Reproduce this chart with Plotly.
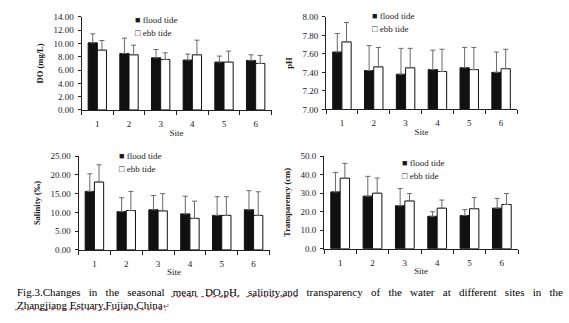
import plotly.graph_objects as go

W, H = 569, 323

sites = ["1", "2", "3", "4", "5", "6"]
series = ["flood tide", "ebb tide"]

# Dissolved oxygen (mg/L): means and upper error (SD)
do_flood = [10.1, 8.5, 7.85, 7.5, 7.2, 7.45]
do_ebb = [9.0, 8.3, 7.6, 8.3, 7.2, 7.0]
do_flood_sd = [1.35, 2.3, 1.25, 0.9, 0.9, 0.85]
do_ebb_sd = [1.45, 1.45, 1.0, 2.2, 1.65, 1.2]

# pH
ph_flood = [7.62, 7.42, 7.38, 7.43, 7.45, 7.40]
ph_ebb = [7.73, 7.46, 7.45, 7.41, 7.43, 7.44]
ph_flood_sd = [0.20, 0.27, 0.28, 0.21, 0.22, 0.22]
ph_ebb_sd = [0.21, 0.21, 0.21, 0.24, 0.24, 0.21]

# Salinity (‰)
sal_flood = [15.6, 10.2, 10.7, 9.6, 9.2, 10.7]
sal_ebb = [18.1, 10.5, 10.4, 8.4, 9.2, 9.2]
sal_flood_sd = [4.7, 3.7, 3.8, 4.7, 5.0, 5.1]
sal_ebb_sd = [4.6, 5.1, 4.6, 4.6, 5.0, 6.3]

# Transparency (cm)
tr_flood = [30.7, 28.4, 23.2, 17.5, 17.9, 21.9]
tr_ebb = [38.1, 30.0, 25.8, 21.9, 21.6, 23.9]
tr_flood_sd = [10.5, 10.7, 9.3, 2.5, 3.2, 5.3]
tr_ebb_sd = [8.0, 8.2, 4.0, 4.4, 6.1, 5.9]

caption_1 = ("Fig.3.Changes in the seasonal mean DO,pH, salinity,and transparency "
             "of the water at different sites in the")
caption_2 = "Zhangjiang Estuary,Fujian,China"

SERIF = "Liberation Serif"
INK = "#1a1a1a"


def px_x(v):
    return v / W


def px_y(v):
    return 1 - v / H


# panel: (axis suffix, flood, ebb, flood sd, ebb sd, y title, range, dtick, fmt,
#         x px span, y px span, key px position)
panels = [
    ("", do_flood, do_ebb, do_flood_sd, do_ebb_sd, "DO (mg/L)", [0, 14], 2, ".2f",
     (81.5, 271.5), (12.3, 108.3), (133, 15.7, 29.0)),
    ("2", ph_flood, ph_ebb, ph_flood_sd, ph_ebb_sd, "pH", [7, 8], 0.2, ".2f",
     (326, 517), (12.3, 107.7), (370, 11.5, 25.0)),
    ("3", sal_flood, sal_ebb, sal_flood_sd, sal_ebb_sd, "Salinity (‰)", [0, 25], 5, ".2f",
     (78.5, 269.5), (156, 252.7), (117, 156.0, 169.0)),
    ("4", tr_flood, tr_ebb, tr_flood_sd, tr_ebb_sd, "Transparency (cm)", [0, 50], 10, ".1f",
     (324, 518), (156, 251.5), (400, 163.3, 176.7)),
]

fig = go.Figure()
layout = dict(
    width=W, height=H,
    margin=dict(l=0, r=0, t=0, b=0),
    paper_bgcolor="white", plot_bgcolor="white",
    showlegend=False,
    barmode="group", bargap=0.42, bargroupgap=0,
    font=dict(family=SERIF, size=9, color=INK),
)
annotations = []

for suffix, fl, eb, fl_sd, eb_sd, ytitle, yr, dt, fmt, xs, ys, leg in panels:
    xa, ya = "x" + suffix, "y" + suffix
    for name, vals, sd, fill in ((series[0], fl, fl_sd, "#111111"),
                                 (series[1], eb, eb_sd, "white")):
        fig.add_trace(go.Bar(
            x=sites, y=vals, name=name, xaxis=xa, yaxis=ya,
            marker=dict(color=fill, line=dict(color="#111111", width=1)),
            error_y=dict(type="data", symmetric=False, array=sd,
                         arrayminus=[0] * len(sd), color="#6a6a6a",
                         thickness=1, width=2.5),
        ))
    layout["xaxis" + suffix] = dict(
        domain=[px_x(xs[0]), px_x(xs[1])], anchor=ya,
        type="category", showline=True, linecolor="#222", linewidth=1,
        ticks="outside", tickson="boundaries", ticklen=4, tickcolor="#222",
        showgrid=False, zeroline=False, ticklabelstandoff=5,
        tickfont=dict(family=SERIF, size=9, color=INK),
        title=dict(text="Site", standoff=1, font=dict(family=SERIF, size=9, color=INK)),
    )
    layout["yaxis" + suffix] = dict(
        domain=[px_y(ys[1]), px_y(ys[0])], anchor=xa,
        range=yr, dtick=dt, tick0=yr[0], tickformat=fmt,
        showline=True, linecolor="#222", linewidth=1,
        ticks="outside", ticklen=3, tickcolor="#222",
        showgrid=False, zeroline=False, ticklabelstandoff=2,
        tickfont=dict(family=SERIF, size=9, color=INK),
        title=dict(text=ytitle, standoff=8,
                   font=dict(family=SERIF, size=8.5, color=INK, weight="bold")),
    )
    # key for the two tides
    lx, ly1, ly2 = leg
    for label, mark, yy in ((series[0], "■", ly1), (series[1], "□", ly2)):
        annotations.append(dict(
            x=px_x(lx), y=px_y(yy), xref="paper", yref="paper",
            xanchor="left", yanchor="middle", showarrow=False,
            text=mark + " " + label,
            font=dict(family=SERIF, size=9, color=INK),
        ))

# figure caption (justified first line)
gap = "\u00a0" * 3
annotations.append(dict(
    x=px_x(15), y=px_y(296), xref="paper", yref="paper",
    xanchor="left", yanchor="middle", showarrow=False,
    text=gap.join(caption_1.split(" ")),
    font=dict(family=SERIF, size=11, color="black"),
))
annotations.append(dict(
    x=px_x(15), y=px_y(309.5), xref="paper", yref="paper",
    xanchor="left", yanchor="middle", showarrow=False,
    text=caption_2 + "<span style='font-size:8px;color:#555'>↵</span>",
    font=dict(family=SERIF, size=11, color="black"),
))
layout["annotations"] = annotations

# spell-check underlines beneath the caption
squiggles = [(171, 238, 301), (246, 297, 301), (15, 166, 314.5)]
layout["shapes"] = [
    dict(type="line", xref="paper", yref="paper",
         x0=px_x(a), x1=px_x(b), y0=px_y(yy), y1=px_y(yy),
         line=dict(color="#d03030", width=1, dash="dot"))
    for a, b, yy in squiggles
]

fig.update_layout(**layout)
fig.write_html("out.html")
